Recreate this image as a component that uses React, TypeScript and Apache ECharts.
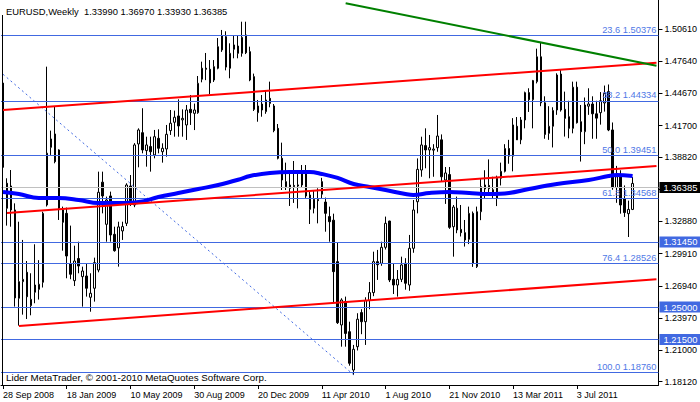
import React, { useEffect, useRef } from "react";
import * as echarts from "echarts";

const FONT = "'Liberation Sans', Arial, sans-serif";
const TITLE = "EURUSD,Weekly  1.33990 1.36970 1.33930 1.36385";
const COPYRIGHT = "Lider MetaTrader, \u00a9 2001-2010 MetaQuotes Software Corp.";

// week slots on the time axis (159 candles + right-hand shift)
const SLOT_COUNT = 165;
const FIRST_WEEK_UTC = Date.UTC(2008, 8, 28);
const DATE_TICK_EVERY = 16;
const LAST_DATE_TICK = 144;
const MONTHS = ["Jan", "Feb", "Mar", "Apr", "May", "Jun", "Jul", "Aug", "Sep", "Oct", "Nov", "Dec"];

// weekly candles: [open, high, low, close]
const weeklyBars: number[][] = [
  [1.4563, 1.4600, 1.3698, 1.3787],
  [1.3640, 1.3686, 1.3250, 1.3410],
  [1.3615, 1.3762, 1.3240, 1.3394],
  [1.3394, 1.3455, 1.2504, 1.2584],
  [1.2581, 1.3286, 1.2329, 1.2734],
  [1.2734, 1.3118, 1.2430, 1.2755],
  [1.2820, 1.2924, 1.2390, 1.2595],
  [1.2513, 1.2811, 1.2424, 1.2571],
  [1.2636, 1.3078, 1.2535, 1.2703],
  [1.2663, 1.2932, 1.2569, 1.2710],
  [1.2728, 1.3378, 1.2680, 1.3363],
  [1.3440, 1.4714, 1.3426, 1.3917],
  [1.3971, 1.4125, 1.3901, 1.4048],
  [1.4094, 1.4346, 1.3824, 1.3839],
  [1.3947, 1.3953, 1.3302, 1.3410],
  [1.3394, 1.3425, 1.3019, 1.3281],
  [1.3363, 1.3416, 1.2765, 1.2970],
  [1.2897, 1.3250, 1.2756, 1.2802],
  [1.2743, 1.3065, 1.2694, 1.2924],
  [1.2947, 1.3102, 1.2811, 1.2878],
  [1.2780, 1.2872, 1.2504, 1.2832],
  [1.2786, 1.2897, 1.2596, 1.2673],
  [1.2590, 1.2811, 1.2457, 1.2627],
  [1.2673, 1.2955, 1.2550, 1.2909],
  [1.2841, 1.3747, 1.2820, 1.3557],
  [1.3650, 1.3747, 1.3363, 1.3523],
  [1.3262, 1.3517, 1.3102, 1.3486],
  [1.3523, 1.3563, 1.3102, 1.3164],
  [1.3170, 1.3240, 1.3010, 1.3019],
  [1.3045, 1.3286, 1.2872, 1.3238],
  [1.3201, 1.3286, 1.3118, 1.3241],
  [1.3271, 1.3640, 1.3246, 1.3624],
  [1.3615, 1.3716, 1.3431, 1.3480],
  [1.3440, 1.4010, 1.3420, 1.3993],
  [1.4002, 1.4146, 1.3787, 1.4131],
  [1.4106, 1.4331, 1.3916, 1.3947],
  [1.3941, 1.4069, 1.3793, 1.3993],
  [1.3978, 1.4069, 1.3747, 1.3931],
  [1.3901, 1.4131, 1.3870, 1.4069],
  [1.4054, 1.4137, 1.3916, 1.3962],
  [1.3931, 1.4008, 1.3830, 1.3962],
  [1.3956, 1.4177, 1.3885, 1.4091],
  [1.4125, 1.4315, 1.4085, 1.4193],
  [1.4202, 1.4309, 1.4069, 1.4248],
  [1.4260, 1.4413, 1.4069, 1.4168],
  [1.4224, 1.4321, 1.4069, 1.4238],
  [1.4177, 1.4361, 1.4039, 1.4315],
  [1.4321, 1.4453, 1.4177, 1.4290],
  [1.4284, 1.4374, 1.4130, 1.4315],
  [1.4290, 1.4628, 1.4280, 1.4561],
  [1.4598, 1.4760, 1.4570, 1.4700],
  [1.4700, 1.4840, 1.4590, 1.4690],
  [1.4690, 1.4775, 1.4462, 1.4564],
  [1.4591, 1.4775, 1.4573, 1.4714],
  [1.4699, 1.4978, 1.4690, 1.4898],
  [1.4868, 1.5052, 1.4850, 1.4997],
  [1.4990, 1.5040, 1.4680, 1.4710],
  [1.4699, 1.4929, 1.4607, 1.4837],
  [1.4874, 1.4997, 1.4791, 1.4914],
  [1.4904, 1.4997, 1.4791, 1.4837],
  [1.4837, 1.5128, 1.4806, 1.4984],
  [1.5006, 1.5128, 1.4830, 1.4843],
  [1.4852, 1.4898, 1.4580, 1.4591],
  [1.4622, 1.4650, 1.4306, 1.4321],
  [1.4290, 1.4407, 1.4207, 1.4352],
  [1.4370, 1.4453, 1.4253, 1.4315],
  [1.4300, 1.4499, 1.4280, 1.4407],
  [1.4422, 1.4576, 1.4340, 1.4376],
  [1.4352, 1.4370, 1.4110, 1.4125],
  [1.4146, 1.4186, 1.3860, 1.3870],
  [1.3870, 1.4014, 1.3578, 1.3670],
  [1.3655, 1.3830, 1.3578, 1.3609],
  [1.3593, 1.3762, 1.3431, 1.3624],
  [1.3620, 1.3845, 1.3459, 1.3610],
  [1.3625, 1.3747, 1.3409, 1.3615],
  [1.3624, 1.3808, 1.3600, 1.3731],
  [1.3725, 1.3808, 1.3505, 1.3523],
  [1.3532, 1.3560, 1.3265, 1.3400],
  [1.3410, 1.3578, 1.3363, 1.3493],
  [1.3490, 1.3594, 1.3271, 1.3480],
  [1.3655, 1.3690, 1.3500, 1.3540],
  [1.3467, 1.3508, 1.3194, 1.3363],
  [1.3333, 1.3425, 1.3102, 1.3286],
  [1.3300, 1.3360, 1.2535, 1.2826],
  [1.2918, 1.3090, 1.2344, 1.2356],
  [1.2335, 1.2581, 1.2135, 1.2565],
  [1.2550, 1.2596, 1.2135, 1.2257],
  [1.2273, 1.2365, 1.1960, 1.1982],
  [1.1920, 1.2151, 1.1874, 1.2111],
  [1.2135, 1.2443, 1.2100, 1.2388],
  [1.2449, 1.2480, 1.2250, 1.2365],
  [1.2365, 1.2590, 1.2151, 1.2560],
  [1.2560, 1.2730, 1.2480, 1.2633],
  [1.2633, 1.3010, 1.2600, 1.2918],
  [1.2918, 1.3026, 1.2750, 1.2890],
  [1.2903, 1.3102, 1.2880, 1.3050],
  [1.3050, 1.3333, 1.3030, 1.3271],
  [1.3292, 1.3295, 1.2730, 1.2749],
  [1.2755, 1.2900, 1.2620, 1.2703],
  [1.2703, 1.2841, 1.2596, 1.2755],
  [1.2755, 1.2964, 1.2730, 1.2888],
  [1.2903, 1.2950, 1.2660, 1.2719],
  [1.2703, 1.3164, 1.2650, 1.3041],
  [1.3041, 1.3486, 1.3000, 1.3394],
  [1.3470, 1.3869, 1.3363, 1.3768],
  [1.3762, 1.4069, 1.3700, 1.3993],
  [1.3987, 1.4146, 1.3778, 1.3947],
  [1.3947, 1.4085, 1.3686, 1.3968],
  [1.3945, 1.4000, 1.3700, 1.3955],
  [1.3968, 1.4269, 1.3930, 1.4075],
  [1.4040, 1.4090, 1.3660, 1.3700],
  [1.3670, 1.3790, 1.3450, 1.3735],
  [1.3720, 1.3790, 1.3220, 1.3234],
  [1.3240, 1.3440, 1.2964, 1.3421],
  [1.3410, 1.3517, 1.3180, 1.3210],
  [1.3215, 1.3440, 1.3150, 1.3185],
  [1.3185, 1.3302, 1.3057, 1.3118],
  [1.3124, 1.3425, 1.3080, 1.3363],
  [1.3363, 1.3380, 1.2870, 1.2903],
  [1.2872, 1.3425, 1.2860, 1.3378],
  [1.3378, 1.3686, 1.3300, 1.3609],
  [1.3624, 1.3760, 1.3500, 1.3587],
  [1.3620, 1.3860, 1.3560, 1.3590],
  [1.3580, 1.3700, 1.3500, 1.3530],
  [1.3500, 1.3710, 1.3430, 1.3686],
  [1.3686, 1.3830, 1.3620, 1.3750],
  [1.3750, 1.4000, 1.3740, 1.3960],
  [1.3960, 1.4040, 1.3820, 1.3890],
  [1.3890, 1.4240, 1.3750, 1.4177],
  [1.4165, 1.4250, 1.4060, 1.4040],
  [1.4040, 1.4250, 1.4000, 1.4223],
  [1.4223, 1.4484, 1.4146, 1.4475],
  [1.4475, 1.4515, 1.4297, 1.4410],
  [1.4410, 1.4592, 1.4146, 1.4586],
  [1.4576, 1.4880, 1.4560, 1.4805],
  [1.4805, 1.4935, 1.4350, 1.4381],
  [1.4381, 1.4441, 1.4050, 1.4090],
  [1.4100, 1.4350, 1.4040, 1.4165],
  [1.4165, 1.4340, 1.3970, 1.4310],
  [1.4315, 1.4653, 1.4270, 1.4637],
  [1.4646, 1.4690, 1.4300, 1.4315],
  [1.4321, 1.4484, 1.4070, 1.4238],
  [1.4253, 1.4400, 1.4055, 1.4146],
  [1.4146, 1.4576, 1.4100, 1.4525],
  [1.4525, 1.4576, 1.4190, 1.4198],
  [1.4207, 1.4361, 1.3840, 1.4115],
  [1.4115, 1.4430, 1.4000, 1.4361],
  [1.4350, 1.4515, 1.4270, 1.4370],
  [1.4370, 1.4441, 1.4050, 1.4280],
  [1.4280, 1.4400, 1.4050, 1.4240],
  [1.4290, 1.4480, 1.4180, 1.4400],
  [1.4380, 1.4540, 1.4300, 1.4469],
  [1.4484, 1.4550, 1.4120, 1.4131],
  [1.4131, 1.4200, 1.3580, 1.3600],
  [1.3600, 1.3800, 1.3460, 1.3700],
  [1.3700, 1.3760, 1.3360, 1.3440],
  [1.3500, 1.3620, 1.3330, 1.3370],
  [1.3360, 1.3480, 1.3145, 1.3399],
  [1.3399, 1.3697, 1.3393, 1.36385],
];

// moving average read at sampled weeks: [week index, value]
const movingAverage: number[][] = [
  [0, 1.3560], [4, 1.3541], [9, 1.3504], [14, 1.3504], [19, 1.3486], [24, 1.3458],
  [29, 1.3458], [34, 1.3467], [39, 1.3513], [44, 1.3550], [49, 1.3587], [54, 1.3624],
  [59, 1.3672], [62, 1.3707], [67, 1.3735], [72, 1.3744], [77, 1.3744], [80, 1.3726],
  [84, 1.3689], [88, 1.3633], [92, 1.3606], [96, 1.3578], [101, 1.3541], [103, 1.3532],
  [107, 1.3550], [112, 1.3560], [117, 1.3550], [122, 1.3541], [127, 1.3550], [132, 1.3587],
  [139, 1.3633], [147, 1.3670], [152, 1.3707], [154, 1.3716], [158, 1.3707],
];

// trend lines: [[week index, price], [week index, price]]
const channelUpper: number[][] = [[0, 1.4315], [164, 1.4750]];
const channelMiddle: number[][] = [[1, 1.3366], [164, 1.3800]];
const channelLower: number[][] = [[4, 1.2326], [164, 1.2756]];
const resistanceLine: number[][] = [[86, 1.5299], [164, 1.4722]];
const fiboBaseLine: number[][] = [[0, 1.4644], [88, 1.1876]];

const fiboRatios = ["23.6", "38.2", "50.0", "61.8", "76.4", "100.0"];
const fiboPrices = [1.50376, 1.44334, 1.39451, 1.34568, 1.28526, 1.1876];
const levelPrices = [1.3145, 1.25, 1.215];
const lastPrice = 1.36385;
const priceTicks = [1.1812, 1.21, 1.2397, 1.2694, 1.2991, 1.3288, 1.3585, 1.3882, 1.417, 1.4467, 1.4764, 1.5061];
const priceMin = 1.1782;
const priceMax = 1.5328;

const weekLabels = Array.from({ length: SLOT_COUNT }, (_, i) => {
  const d = new Date(FIRST_WEEK_UTC + i * 7 * 86400000);
  return `${d.getUTCDate()} ${MONTHS[d.getUTCMonth()]} ${d.getUTCFullYear()}`;
});

function toSlots(points: number[][]) {
  const arr: (number | null)[] = new Array(SLOT_COUNT).fill(null);
  points.forEach(([i, v]) => {
    arr[i] = v;
  });
  return arr;
}

const isDateTick = (i: number) => i % DATE_TICK_EVERY === 0 && i <= LAST_DATE_TICK;

const BLUE = "#4169E1";

export default function App() {
  const ref = useRef<HTMLDivElement>(null);

  useEffect(() => {
    if (!ref.current) return;
    const chart = echarts.init(ref.current, undefined, { renderer: "svg" });
    const empty = new Array(SLOT_COUNT).fill(null);
    const trend = (pts: number[][], color: string, width: number, type: any = "solid") => ({
      type: "line",
      data: toSlots(pts),
      connectNulls: true,
      symbol: "none",
      silent: true,
      z: 5,
      lineStyle: { color, width, type },
    });

    const option: any = {
      animation: false,
      backgroundColor: "#ffffff",
      grid: { left: 1, right: 39, top: 0, bottom: 17 },
      xAxis: {
        type: "category",
        data: weekLabels,
        boundaryGap: true,
        axisLine: { show: true, lineStyle: { color: "#000", width: 1 } },
        axisTick: {
          show: true,
          interval: (i: number) => isDateTick(i),
          alignWithLabel: true,
          length: 4,
          lineStyle: { color: "#000" },
        },
        axisLabel: {
          interval: (i: number) => isDateTick(i),
          align: "left",
          margin: 5,
          fontSize: 9,
          color: "#000",
          fontFamily: FONT,
        },
        splitLine: { show: false },
      },
      yAxis: {
        type: "value",
        position: "right",
        min: priceMin,
        max: priceMax,
        axisLine: { show: true, onZero: false, lineStyle: { color: "#000" } },
        axisTick: { show: true, customValues: priceTicks, length: 4, lineStyle: { color: "#000" } },
        axisLabel: {
          customValues: priceTicks,
          formatter: (v: number) => v.toFixed(5),
          margin: 6,
          fontSize: 9,
          color: "#000",
          fontFamily: FONT,
        },
        splitLine: { show: false },
      },
      graphic: [
        { type: "line", shape: { x1: 2.5, y1: 15, x2: 2.5, y2: 385 }, style: { stroke: "#000", lineWidth: 1 }, z: 10 },
        {
          type: "text",
          x: 6,
          y: 11,
          style: { text: TITLE, fill: "#000", font: `9.4px ${FONT}`, textVerticalAlign: "middle" },
          z: 10,
        },
        {
          type: "text",
          x: 6,
          y: 377,
          style: { text: COPYRIGHT, fill: "#000", font: `9.8px ${FONT}`, textVerticalAlign: "middle" },
          z: 10,
        },
      ],
      series: [
        {
          type: "line",
          data: empty,
          silent: true,
          z: 1,
          markLine: {
            silent: true,
            symbol: ["none", "none"],
            animation: false,
            data: [
              {
                yAxis: lastPrice,
                lineStyle: { color: "#c0c0c0", width: 1, type: "solid" },
                label: {
                  show: true,
                  position: "end",
                  distance: 1,
                  formatter: lastPrice.toFixed(5),
                  color: "#fff",
                  backgroundColor: "#000",
                  padding: [1, 4, 1, 4],
                  fontSize: 9.4,
                  fontFamily: FONT,
                },
              },
            ],
          },
        },
        {
          type: "candlestick",
          z: 3,
          barWidth: 2,
          silent: true,
          data: weeklyBars.map(([o, h, l, c]) => [o, c, l, h]),
          itemStyle: {
            color: "#ffffff",
            color0: "#000000",
            borderColor: "#000000",
            borderColor0: "#000000",
            borderColorDoji: "#000000",
            borderWidth: 1,
          },
        },
        {
          type: "line",
          data: empty,
          silent: true,
          z: 4,
          markLine: {
            silent: true,
            symbol: ["none", "none"],
            animation: false,
            lineStyle: { color: BLUE, width: 1, type: "solid" },
            data: [
              ...fiboPrices.map((p, k) => ({
                yAxis: p,
                label: {
                  show: true,
                  position: "insideEndTop",
                  distance: [2, 1],
                  formatter: `${fiboRatios[k]} ${p.toFixed(5)}`,
                  color: "#5078e6",
                  fontSize: 9.3,
                  fontFamily: FONT,
                },
              })),
              ...levelPrices.map((p) => ({
                yAxis: p,
                label: {
                  show: true,
                  position: "end",
                  distance: 1,
                  formatter: p.toFixed(5),
                  color: "#fff",
                  backgroundColor: BLUE,
                  padding: [1, 4, 1, 4],
                  fontSize: 9.4,
                  fontFamily: FONT,
                },
              })),
            ],
          },
        },
        trend(fiboBaseLine, BLUE, 1, [2, 3]),
        {
          type: "line",
          data: toSlots(movingAverage),
          connectNulls: true,
          smooth: 0.4,
          symbol: "none",
          silent: true,
          z: 5,
          lineStyle: { color: "#0000ff", width: 4 },
        },
        trend(channelUpper, "#ff0000", 2),
        trend(channelMiddle, "#ff0000", 2),
        trend(channelLower, "#ff0000", 2),
        trend(resistanceLine, "#008000", 2),
      ],
    };
    chart.setOption(option);
    return () => chart.dispose();
  }, []);

  return (
    <div
      ref={ref}
      style={{ position: "fixed", left: 0, top: 0, width: 700, height: 402, background: "#fff" }}
    />
  );
}
